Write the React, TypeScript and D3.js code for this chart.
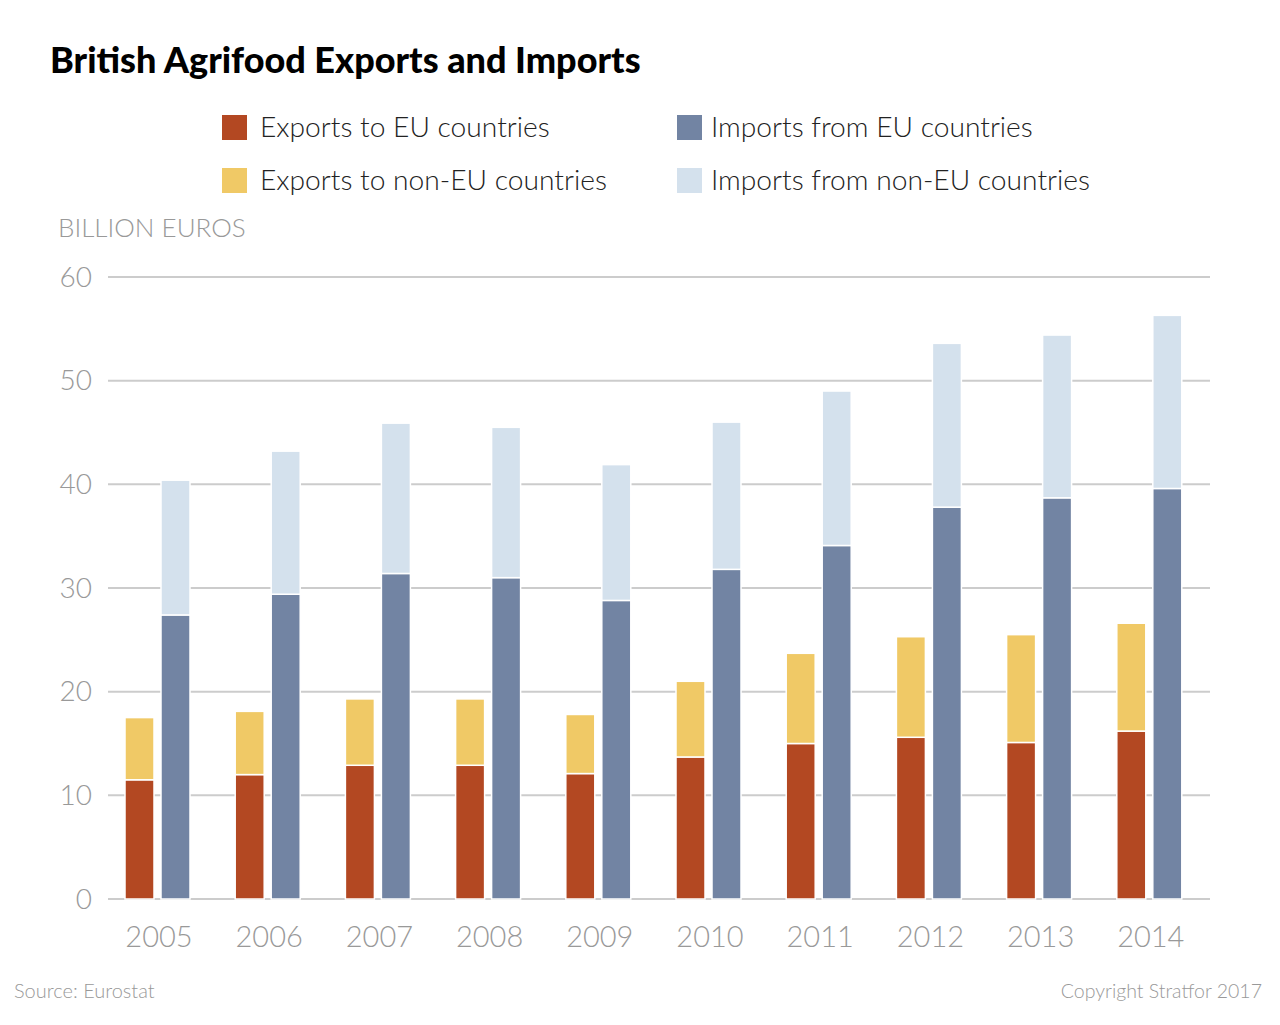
import * as d3 from "d3";

// Agrifood trade, billion euros
const years = ["2005", "2006", "2007", "2008", "2009", "2010", "2011", "2012", "2013", "2014"];
const exportsEU = [11.5, 12.0, 12.9, 12.9, 12.1, 13.7, 15.0, 15.6, 15.1, 16.2];
const exportsNonEU = [6.0, 6.1, 6.4, 6.4, 5.7, 7.3, 8.7, 9.7, 10.4, 10.4];
const importsEU = [27.4, 29.4, 31.4, 31.0, 28.8, 31.8, 34.1, 37.8, 38.7, 39.6];
const importsNonEU = [13.0, 13.8, 14.5, 14.5, 13.1, 14.2, 14.9, 15.8, 15.7, 16.7];
const yTicks = [0, 10, 20, 30, 40, 50, 60];

const legendItems = [
  { label: "Exports to EU countries", color: "#b34822" },
  { label: "Exports to non-EU countries", color: "#f0c966" },
  { label: "Imports from EU countries", color: "#7284a3" },
  { label: "Imports from non-EU countries", color: "#d4e1ed" },
];

const W = 1280;
const H = 1025;
const FONT = "Lato, 'Open Sans', sans-serif";

export default function App() {
  const x0 = d3.scaleBand<string>().domain(years).range([115, 1217]);
  const x1 = d3
    .scaleBand<string>()
    .domain(["exports", "imports"])
    .range([10, 75])
    .paddingInner(7 / 36);
  const y = d3.scaleLinear().domain([0, 60]).range([899, 277]);

  const series = d3.stack<number>().keys(["eu", "non"]);
  const exportStack = series(
    years.map((_, i) => ({ eu: exportsEU[i], non: exportsNonEU[i] })) as any
  );
  const importStack = series(
    years.map((_, i) => ({ eu: importsEU[i], non: importsNonEU[i] })) as any
  );

  const groups = [
    { key: "exports", stack: exportStack, colors: [legendItems[0].color, legendItems[1].color] },
    { key: "imports", stack: importStack, colors: [legendItems[2].color, legendItems[3].color] },
  ];

  return (
    <svg width={W} height={H} style={{ display: "block", margin: "-8px", background: "#fff" }}>
      <text x={50} y={73} fontFamily={FONT} fontWeight={900} fontSize={36} fill="#000">
        British Agrifood Exports and Imports
      </text>

      {legendItems.map((d, i) => {
        const lx = i < 2 ? 222 : 677;
        const ly = 115 + (i % 2) * 53;
        return (
          <g key={d.label}>
            <rect x={lx} y={ly} width={25} height={25} fill={d.color} />
            <text
              x={i < 2 ? 260 : 711}
              y={ly + 22}
              fontFamily={FONT}
              fontWeight={300}
              fontSize={28.2}
              fill="#222"
            >
              {d.label}
            </text>
          </g>
        );
      })}

      <text x={58} y={237} fontFamily={FONT} fontWeight={300} fontSize={26} fill="#999">
        BILLION EUROS
      </text>

      {yTicks.map((t) => (
        <g key={t}>
          <line x1={108} x2={1210} y1={y(t)} y2={y(t)} stroke="#cccccc" strokeWidth={2} />
          <text
            x={92}
            y={y(t)}
            dy="0.35em"
            textAnchor="end"
            fontFamily={FONT}
            fontWeight={300}
            fontSize={28}
            fill="#999"
          >
            {t}
          </text>
        </g>
      ))}

      {groups.map((g) =>
        g.stack.map((layer, li) =>
          layer.map((d, i) => (
            <rect
              key={`${g.key}-${li}-${i}`}
              x={(x0(years[i]) ?? 0) + (x1(g.key) ?? 0)}
              y={y(d[1])}
              width={x1.bandwidth()}
              height={y(d[0]) - y(d[1])}
              fill={g.colors[li]}
              stroke="#fff"
              strokeWidth={1.5}
            />
          ))
        )
      )}

      {years.map((yr) => (
        <text
          key={yr}
          x={(x0(yr) ?? 0) + 44}
          y={947}
          textAnchor="middle"
          fontFamily={FONT}
          fontWeight={300}
          fontSize={29}
          fill="#999"
        >
          {yr}
        </text>
      ))}

      <text x={14} y={998} fontFamily={FONT} fontWeight={300} fontSize={20} fill="#999">
        Source: Eurostat
      </text>
      <text x={1262} y={998} textAnchor="end" fontFamily={FONT} fontWeight={300} fontSize={19.5} fill="#999">
        Copyright Stratfor 2017
      </text>
    </svg>
  );
}
